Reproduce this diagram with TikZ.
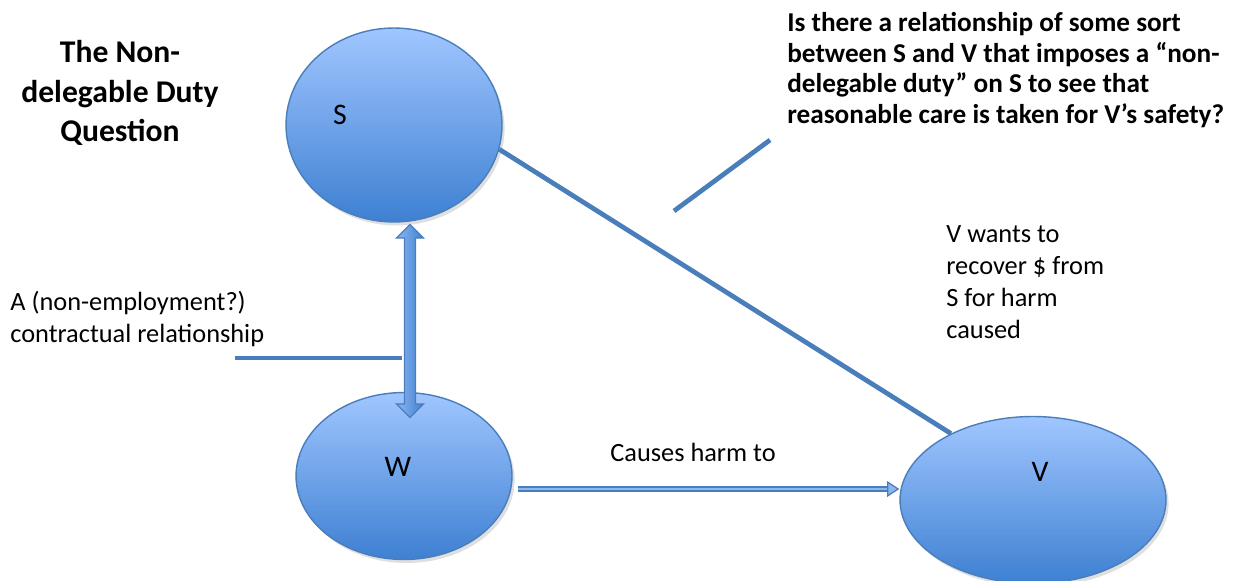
\documentclass[tikz,border=0pt]{standalone}
\usepackage{fontspec}
\setmainfont{Carlito}
\usetikzlibrary{shapes.geometric,shapes.arrows,arrows.meta,shadows}

\definecolor{edgeblue}{RGB}{74,126,187}
\definecolor{topblue}{RGB}{160,198,255}
\definecolor{botblue}{RGB}{62,128,210}
\definecolor{midblue}{RGB}{140,182,240}

\begin{document}
\begin{tikzpicture}[x=0.02cm,y=-0.02cm,
  party/.style={ellipse, draw=edgeblue, line width=0.8pt, top color=topblue, bottom color=botblue,
    drop shadow={opacity=0.25, shadow xshift=1.5pt, shadow yshift=-2pt}},
  letter/.style={font=\fontsize{17}{20}\selectfont},
  txt/.style={font=\fontsize{15}{18.3}\selectfont, align=left, inner sep=0pt},
  link/.style={draw=edgeblue, line width=2.7pt},
  hollow/.style={draw=edgeblue, line width=0.7pt, double=midblue, double distance=1.6pt,
    -{Triangle[length=7pt, width=9pt, fill=midblue]}}]
\useasboundingbox (0,0) rectangle (1233,581);

% parties
\node[party, minimum width=4.32cm, minimum height=3.88cm] (S) at (394,125) {};
\node[party, minimum width=4.32cm, minimum height=3.34cm] (W) at (404,476) {};
\node[party, minimum width=5.32cm, minimum height=3.34cm] (V) at (1033,500) {};
\node[letter] (Slbl) at (340,115) {S};
\node[letter] (Wlbl) at (398,467) {W};
\node[letter] (Vlbl) at (1040,472) {V};

% connectors
\draw[link] (S.-13) -- (V.141);
\node[double arrow, rotate=90, draw=edgeblue, line width=0.7pt, left color=midblue, right color=botblue,
  inner xsep=0pt, inner ysep=2.8pt, minimum height=3.86cm, double arrow head extend=0.16cm] (SW) at (410,321) {};
\draw[hollow] ([shift={(5,13)}]W.east) -- ([shift={(0,-11)}]V.west);

% callout lines
\coordinate (qa) at (674,211);
\coordinate (qb) at (770,140);
\coordinate (ca) at (235,358);
\coordinate (cb) at (402,358);
\draw[link] (qa) -- (qb);
\draw[link] (ca) -- (cb);

% texts
\node[font=\bfseries\fontsize{18}{22.7}\selectfont, align=center] (title) at (120,93) {The Non-\\delegable Duty\\Question};
\node[txt, font=\bfseries\fontsize{15.5}{17.4}\selectfont, anchor=north west] (quest) at (787,12)
  {Is there a relationship of some sort\\between S and V that imposes a “non-\\delegable duty” on S to see that\\reasonable care is taken for V’s safety?};
\node[txt, anchor=north west] (recover) at (946,225) {V wants to\\recover \$ from\\S for harm\\caused};
\node[txt, anchor=north west] (contract) at (10,291) {A (non-employment?)\\contractual relationship};
\node[txt] (harm) at (693,452) {Causes harm to};
\end{tikzpicture}
\end{document}
